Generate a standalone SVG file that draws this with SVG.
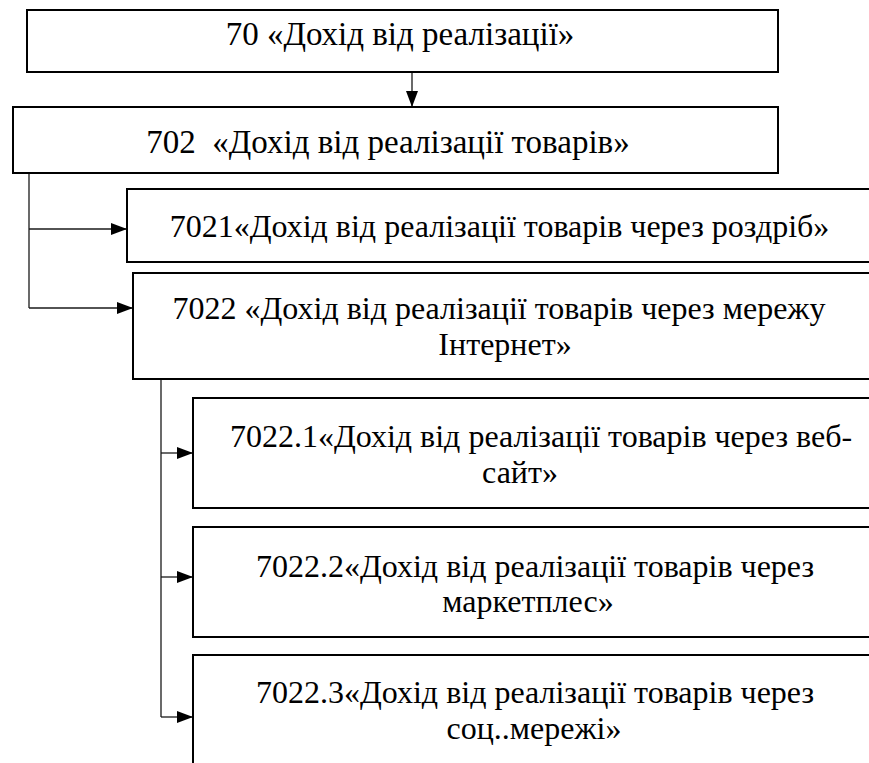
<svg xmlns="http://www.w3.org/2000/svg" width="869" height="763" viewBox="0 0 869 763">
<style>
.box{fill:#fff;stroke:#000;stroke-width:2}
.c{fill:none;stroke:#1a1a1a;stroke-width:1.3}
.s{font-size:32px;text-anchor:middle}
.h{font-size:33px;text-anchor:middle}
</style>
<defs>
<marker id="ah" viewBox="0 0 16 12" refX="16" refY="6" markerWidth="16" markerHeight="12" markerUnits="userSpaceOnUse" orient="auto">
<path d="M0,0 L16,6 L0,12 Z" fill="#000"/>
</marker>
</defs>
<rect width="869" height="763" fill="#fff"/>
<g id="connectors">
<path class="c" d="M412,72 V107" marker-end="url(#ah)"/>
<path class="c" d="M29,173 V308"/>
<path class="c" d="M29,229 H127" marker-end="url(#ah)"/>
<path class="c" d="M29,308 H133" marker-end="url(#ah)"/>
<path class="c" d="M161,379 V717"/>
<path class="c" d="M161,453 H193" marker-end="url(#ah)"/>
<path class="c" d="M161,577 H193" marker-end="url(#ah)"/>
<path class="c" d="M161,717 H193" marker-end="url(#ah)"/>
</g>
<g font-family="Liberation Serif, serif" fill="#000">
<g id="n70">
<rect class="box" x="27" y="10" width="751" height="62"/>
<text class="h" x="400" y="45">70 «Дохід від реалізації»</text>
</g>
<g id="n702">
<rect class="box" x="13" y="107" width="765" height="66"/>
<text class="h" x="388" y="153" xml:space="preserve">702  «Дохід від реалізації товарів»</text>
</g>
<g id="n7021">
<rect class="box" x="127" y="189" width="760" height="73"/>
<text class="s" x="499.5" y="237">7021«Дохід від реалізації товарів через роздріб»</text>
</g>
<g id="n7022">
<rect class="box" x="133" y="273" width="760" height="106"/>
<text class="s" x="499" y="319">7022 «Дохід від реалізації товарів через мережу</text>
<text class="s" x="505" y="355">Інтернет»</text>
</g>
<g id="n7022_1">
<rect class="box" x="193" y="398" width="700" height="110"/>
<text class="s" x="541" y="447">7022.1«Дохід від реалізації товарів через веб-</text>
<text class="s" x="520" y="483">сайт»</text>
</g>
<g id="n7022_2">
<rect class="box" x="193" y="527" width="700" height="110"/>
<text class="s" x="535" y="577">7022.2«Дохід від реалізації товарів через</text>
<text class="s" x="528" y="612">маркетплес»</text>
</g>
<g id="n7022_3">
<rect class="box" x="193" y="655" width="700" height="140"/>
<text class="s" x="535" y="703">7022.3«Дохід від реалізації товарів через</text>
<text class="s" x="534" y="739">соц..мережі»</text>
</g>
</g>
</svg>
